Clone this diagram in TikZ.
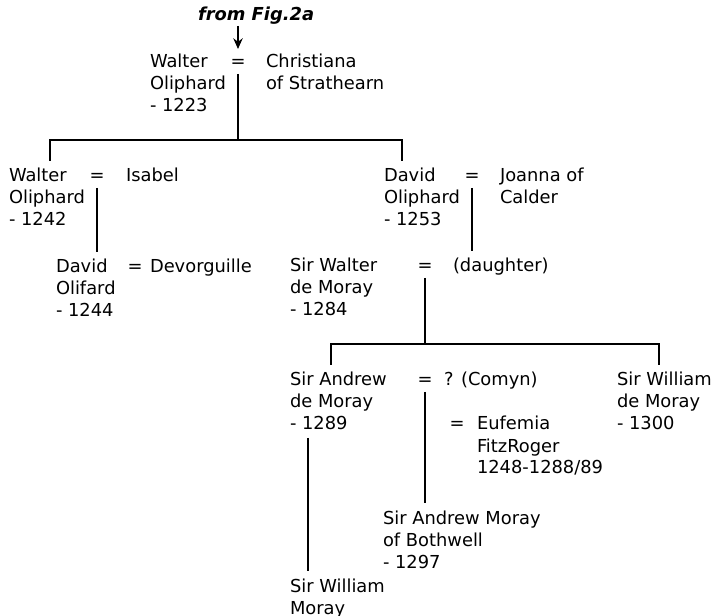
\documentclass[tikz,border=0pt]{standalone}
\usepackage{fontspec}
\setmainfont{DejaVu Sans}
\usetikzlibrary{arrows.meta}
\begin{document}
\begin{tikzpicture}[x=0.75pt, y=-0.75pt, line width=1.5pt,
        person/.style={anchor=base west, align=left, inner xsep=0pt, inner ysep=5pt, font=\fontsize{13.4}{16.5}\selectfont},
        wed/.style={anchor=base, inner sep=0pt, text height=13.5pt, text depth=3.75pt, font=\fontsize{13.4}{16.5}\selectfont}]
        \useasboundingbox (0,0) rectangle (714,616);
        \node [anchor=base west, inner sep=0pt, font=\fontsize{13.4}{16.5}\selectfont\bfseries\itshape] (fig) at (197,21) {from Fig.2a};
        \foreach \n/\x/\y in {e1/238/68, e2/97/182, e3/472/182, e4/135/273, e5/425/272, e6/425/386, e7/457/430}{
                \node [wed] (\n) at (\x,\y) {=};
            }
        \node [person] (wo1) at (149,112) {Walter\\Oliphard\\- 1223};
        \node [person] (cs) at (265,90) {Christiana\\of Strathearn};
        \node [person] (wo2) at (8,226) {Walter\\Oliphard\\- 1242};
        \node [person] (isa) at (125,182) {Isabel};
        \node [person] (do1) at (383,226) {David\\Oliphard\\- 1253};
        \node [person] (joa) at (499,204) {Joanna of\\Calder};
        \node [person] (do2) at (55,317) {David\\Olifard\\- 1244};
        \node [person] (dev) at (149,273) {Devorguille};
        \node [person] (swl) at (289,316) {Sir Walter\\de Moray\\- 1284};
        \node [person] (dau) at (452,272) {(daughter)};
        \node [person] (sam) at (289,430) {Sir Andrew\\de Moray\\- 1289};
        \node [person] (com) at (443,386) {? (Comyn)};
        \node [person] (swd) at (616,430) {Sir William\\de Moray\\- 1300};
        \node [person] (euf) at (476,474) {Eufemia\\FitzRoger\\1248-1288/89};
        \node [person] (sab) at (382,568) {Sir Andrew Moray\\of Bothwell\\- 1297};
        \node [person] (swm) at (289,614) {Sir William\\Moray};
        \draw [-{Stealth[length=8pt,width=7pt]}] (fig.south -| e1) -- (e1.north);
        \coordinate (bar1) at (e1 |- 0,140);
        \draw (e1.south) -- (bar1);
        \draw ([xshift=31.5pt]wo2.north west) |- (bar1) -| ([xshift=14.25pt]do1.north west);
        \draw (e2.south) -- (e2.south |- do2.north);
        \draw (e3.south) -- (e3.south |- dau.north);
        \coordinate (bar2) at (e5 |- 0,344);
        \draw (e5.south) -- (bar2);
        \draw ([xshift=31.5pt]sam.north west) |- (bar2) -| ([xshift=32.25pt]swd.north west);
        \draw (e6.south) -- (e6.south |- sab.north);
        \draw ([xshift=14.25pt]sam.south west) -- ([xshift=14.25pt]swm.north west);
\end{tikzpicture}
\end{document}
